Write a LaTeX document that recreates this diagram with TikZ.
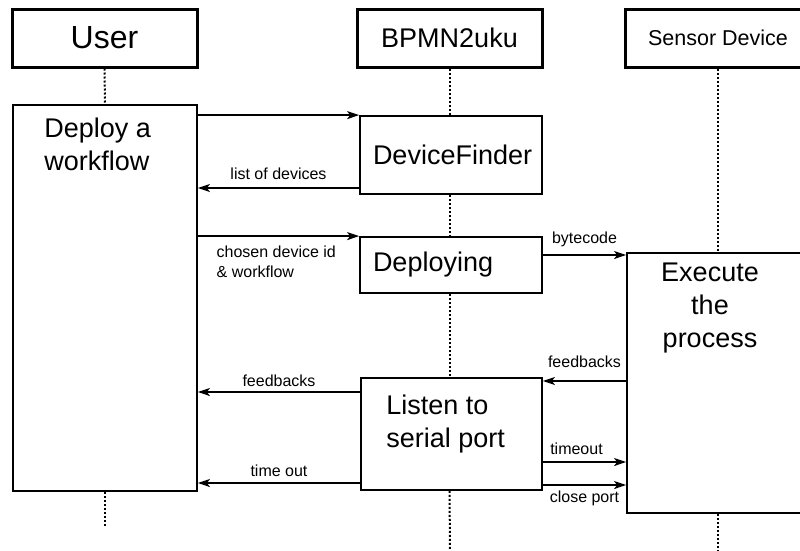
\documentclass[tikz,border=0pt]{standalone}
\usepackage{fontspec}
\setmainfont{Liberation Sans}
\usetikzlibrary{arrows.meta, positioning, calc}
\tikzset{
  headbox/.style={rectangle, draw=black, line width=3pt, fill=white,
                  minimum width=185pt, minimum height=58pt, inner sep=0pt},
  actbox/.style={rectangle, draw=black, line width=1.8pt, fill=white, inner sep=0pt},
  bigtxt/.style={font=\fontsize{27}{33}\selectfont, inner sep=0pt},
  lbl/.style={font=\fontsize{16}{20}\selectfont, inner sep=2pt},
  msg/.style={-{Stealth[length=12pt, width=8pt, inset=3pt]}, line width=1.6pt},
  life/.style={line width=2pt, dash pattern=on 2pt off 2pt},
}

\begin{document}
\begin{tikzpicture}[x=1pt, y=-1pt]
        \clip (0,0) rectangle (800,550);
        \fill[white] (0,0) rectangle (800,550);

        % lifeline heads
        \node[headbox, font=\fontsize{32}{38}\selectfont] (user) at (104.5,38) {User};
        \node[headbox, font=\fontsize{27}{32}\selectfont] (bpmn) at (449.5,38) {BPMN2uku};
        \node[headbox, font=\fontsize{21.5}{26}\selectfont] (sensor) at (718,38) {Sensor Device};

        % activations
        \node[actbox, minimum width=184pt, minimum height=386pt] (userAct) at (105,298) {};
        \node[bigtxt, anchor=north west, align=left] (deployTxt)
             at ([xshift=32pt, yshift=-14pt]userAct.north west) {Deploy a\\workflow};
        \node[actbox, bigtxt, minimum width=182pt, minimum height=78pt,
              text width=156pt, align=left] (finder) at (451,155) {DeviceFinder};
        \node[actbox, bigtxt, minimum width=182pt, minimum height=56pt,
              text width=156pt, align=left] (deploy) at (451,265) {Deploying};
        \node[actbox, minimum width=181pt, minimum height=112pt] (listen) at (451.5,434) {};
        \node[bigtxt, anchor=north west, align=left] (listenTxt)
             at ([xshift=26pt, yshift=-18pt]listen.north west) {Listen to\\serial port};
        \node[actbox, minimum width=184pt, minimum height=260pt] (exec) at (719,383) {};
        \node[bigtxt, anchor=north, align=center] (execTxt)
             at ([xshift=-9pt, yshift=-11pt]exec.north) {Execute\\the\\process};

        % lifelines
        \coordinate (userEnd) at (105,527);
        \coordinate (bpmnEnd) at (450,550);
        \coordinate (sensorEnd) at (718,550);
        \draw[life] (user.south) -- (userAct.north);
        \draw[life] (userAct.south) -- (userEnd);
        \draw[life] (bpmn.south) -- (bpmn.south |- finder.north);
        \draw[life] (bpmn.south |- finder.south) -- (bpmn.south |- deploy.north);
        \draw[life] (bpmn.south |- deploy.south) -- (bpmn.south |- listen.north);
        \draw[life] (bpmn.south |- listen.south) -- (bpmnEnd);
        \draw[life] (sensor.south) -- (sensor.south |- exec.north);
        \draw[life] (sensor.south |- exec.south) -- (sensorEnd);

        % messages
        \draw[msg] (userAct.east |- finder.north) -- (finder.north west);
        \draw[msg] (finder.west |- 0,188) -- node[lbl, above=6pt] (lblList) {list of devices}
             (userAct.east |- 0,188);
        \draw[msg] (userAct.east |- deploy.north) -- (deploy.north west)
             node[lbl, pos=0, anchor=north west, xshift=16pt, yshift=-7pt, align=left] (lblChosen)
             {chosen device id\\\& workflow};
        \draw[msg] (deploy.east |- 0,255) -- node[lbl, above=5pt] (lblByte) {bytecode}
             (exec.west |- 0,255);
        \draw[msg] (exec.west |- 0,381) -- node[lbl, above=11pt] (lblFeedR) {feedbacks}
             (listen.east |- 0,381);
        \draw[msg] (listen.west |- 0,392) -- node[lbl, above=3pt] (lblFeedL) {feedbacks}
             (userAct.east |- 0,392);
        \draw[msg] (listen.east |- 0,462) -- node[lbl, above=5pt, xshift=-8pt] (lblTimeout) {timeout}
             (exec.west |- 0,462);
        \draw[msg] (listen.east |- 0,485) -- node[lbl, below=3pt] (lblClose) {close port}
             (exec.west |- 0,485);
        \draw[msg] (listen.west |- 0,483) -- node[lbl, above=4pt] (lblTimeOut) {time out}
             (userAct.east |- 0,483);
      \end{tikzpicture}
\end{document}
